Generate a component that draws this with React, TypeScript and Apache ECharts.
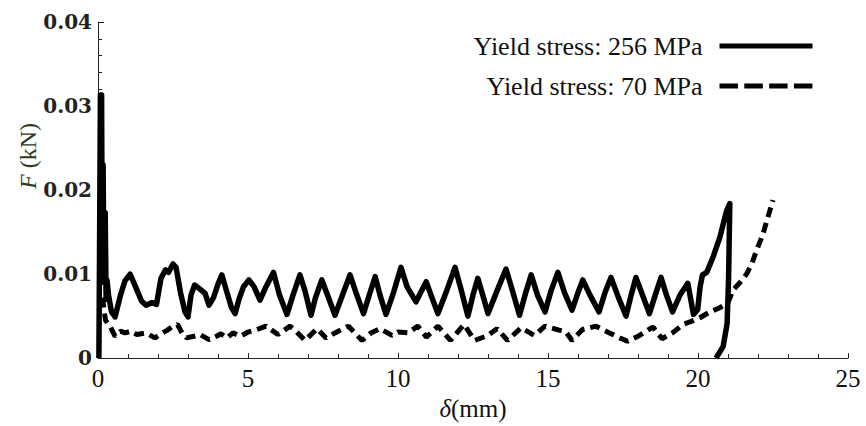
import React, { useEffect, useRef } from "react";
import * as echarts from "echarts";

const seriesNames = ["Yield stress: 256 MPa", "Yield stress: 70 MPa"];
const xTicks = [0, 5, 10, 15, 20, 25];
const yTicks = [0, 0.01, 0.02, 0.03, 0.04];

// Yield stress 256 MPa: [delta (mm), F (kN)]
const solid256: [number, number][] = [
  [0.03, 0], [0.05, 0.012], [0.08, 0.0313], [0.12, 0.0313], [0.14, 0.012], [0.17, 0.023],
  [0.2, 0.009], [0.24, 0.0173], [0.27, 0.007], [0.3, 0.0093],
  [0.35, 0.0075], [0.45, 0.0055], [0.57, 0.0049], [0.75, 0.0075], [0.9, 0.0092], [1.07, 0.01],
  [1.25, 0.0085], [1.45, 0.0068], [1.6, 0.0063], [1.8, 0.0066], [1.95, 0.0064], [2.1, 0.0095],
  [2.25, 0.0105], [2.35, 0.0102], [2.5, 0.0112], [2.6, 0.0108], [2.75, 0.0078], [2.9, 0.0055],
  [3.0, 0.0049], [3.1, 0.0075], [3.22, 0.0087], [3.4, 0.0082], [3.57, 0.0077], [3.7, 0.0063],
  [3.85, 0.0072], [4.0, 0.0088], [4.13, 0.0099], [4.3, 0.0078], [4.45, 0.006], [4.57, 0.0053],
  [4.7, 0.007], [4.85, 0.0085], [5.03, 0.0093], [5.2, 0.0085], [5.4, 0.0069], [5.6, 0.0085],
  [5.85, 0.0102], [6.05, 0.0075], [6.3, 0.0052], [6.5, 0.0075], [6.73, 0.0099], [6.9, 0.008],
  [7.1, 0.0051], [7.25, 0.0072], [7.46, 0.0093], [7.65, 0.0075], [7.9, 0.0051], [8.15, 0.0075],
  [8.4, 0.0099], [8.6, 0.0078], [8.85, 0.0053], [9.05, 0.0076], [9.24, 0.0097], [9.4, 0.0075],
  [9.6, 0.0052], [9.85, 0.0078], [10.1, 0.0108], [10.3, 0.0085], [10.6, 0.0067], [10.94, 0.0091],
  [11.1, 0.0075], [11.33, 0.0053], [11.6, 0.0078], [11.9, 0.0108], [12.1, 0.0082], [12.33, 0.005],
  [12.5, 0.0075], [12.66, 0.0095], [12.85, 0.0072], [13.0, 0.0053], [13.3, 0.008], [13.6, 0.0106],
  [13.8, 0.0082], [14.05, 0.0051], [14.25, 0.0077], [14.44, 0.0099], [14.65, 0.0075], [14.9, 0.0055],
  [15.1, 0.008], [15.33, 0.0102], [15.55, 0.0078], [15.8, 0.0057], [16.0, 0.0078], [16.16, 0.0093],
  [16.4, 0.0075], [16.7, 0.0055], [16.9, 0.0078], [17.1, 0.0096], [17.35, 0.0072], [17.6, 0.005],
  [17.75, 0.0072], [17.93, 0.0096], [18.15, 0.0075], [18.38, 0.0053], [18.6, 0.0078], [18.77, 0.0096],
  [18.95, 0.0075], [19.15, 0.0055], [19.4, 0.0075], [19.66, 0.0089], [19.85, 0.0052], [19.99, 0.0058],
  [20.07, 0.0085], [20.15, 0.0099], [20.29, 0.0102], [20.5, 0.012], [20.73, 0.0144], [20.95, 0.0175],
  [21.06, 0.0184], [21.02, 0.0096], [20.97, 0.0041], [20.84, 0.0014], [20.6, 0.0],
];

// Yield stress 70 MPa: [delta (mm), F (kN)]
const dashed70: [number, number][] = [
  [0.15, 0.0072], [0.25, 0.0045], [0.4, 0.0038], [0.57, 0.0026], [0.75, 0.0032], [0.9, 0.003],
  [1.1, 0.0032], [1.3, 0.0028], [1.6, 0.003], [1.9, 0.0024], [2.1, 0.0029], [2.3, 0.0033],
  [2.5, 0.0038], [2.65, 0.004], [2.8, 0.003], [2.95, 0.0024], [3.2, 0.0026], [3.4, 0.0028],
  [3.7, 0.0022], [3.95, 0.0026], [4.1, 0.0029], [4.3, 0.0024], [4.5, 0.003], [4.75, 0.0026],
  [5.0, 0.0031], [5.3, 0.0034], [5.6, 0.0038], [6.0, 0.0028], [6.4, 0.0038], [6.6, 0.0032],
  [6.9, 0.0021], [7.3, 0.0035], [7.6, 0.0024], [7.9, 0.003], [8.35, 0.0038], [8.8, 0.0021],
  [9.1, 0.003], [9.4, 0.0035], [9.8, 0.0027], [10.0, 0.0031], [10.33, 0.003], [10.66, 0.0038],
  [10.95, 0.0025], [11.33, 0.0038], [11.75, 0.0021], [12.2, 0.004], [12.55, 0.0021], [13.0, 0.0027],
  [13.3, 0.0035], [13.65, 0.0021], [14.1, 0.0036], [14.55, 0.0027], [14.9, 0.0038], [15.4, 0.0033],
  [15.6, 0.0031], [15.8, 0.0021], [16.15, 0.0034], [16.6, 0.0038], [17.05, 0.003], [17.4, 0.0024],
  [17.65, 0.002], [18.05, 0.0027], [18.5, 0.0037], [18.8, 0.0023], [19.15, 0.003], [19.5, 0.004],
  [19.8, 0.0044], [20.06, 0.0048], [20.4, 0.0055], [20.73, 0.006], [21.0, 0.0066], [21.17, 0.0081],
  [21.4, 0.009], [21.62, 0.01], [21.8, 0.0113], [21.95, 0.0128], [22.15, 0.0146], [22.3, 0.0164],
  [22.5, 0.0188],
];

export default function App() {
  const ref = useRef<HTMLDivElement>(null);

  useEffect(() => {
    document.body.style.margin = "0";
    if (!ref.current) return;
    const chart = echarts.init(ref.current, null, { renderer: "svg" });
    const axisColor = "#222";
    chart.setOption({
      animation: false,
      backgroundColor: "#fff",
      grid: { left: 98, right: 18, top: 22, bottom: 64, containLabel: false },
      legend: {
        orient: "vertical",
        right: 51,
        top: 33,
        padding: 0,
        align: "right",
        itemWidth: 93,
        itemHeight: 14,
        itemGap: 14,
        itemStyle: { opacity: 0 },
        lineStyle: { width: 5 },
        textStyle: {
          fontFamily: "Liberation Serif",
          fontSize: 26,
          color: "#111",
          padding: [0, 12, 0, 0],
        },
        data: [
          { name: seriesNames[0], lineStyle: { type: "solid", width: 5 } },
          { name: seriesNames[1], lineStyle: { type: [18.5, 6.3], width: 5 } },
        ],
      },
      xAxis: {
        type: "value",
        min: xTicks[0],
        max: xTicks[xTicks.length - 1],
        interval: 5,
        name: "{i|δ}(mm)",
        nameLocation: "middle",
        nameGap: 37,
        nameTextStyle: {
          fontFamily: "Liberation Serif",
          fontSize: 25,
          color: "#111",
          rich: { i: { fontFamily: "Liberation Serif", fontStyle: "italic", fontSize: 25, color: "#111" } },
        },
        axisLine: { show: true, lineStyle: { color: axisColor, width: 1 } },
        axisTick: { show: true, inside: true, length: 5, lineStyle: { color: axisColor } },
        minorTick: { show: true, splitNumber: 5, length: 4, lineStyle: { color: axisColor } },
        axisLabel: { fontFamily: "Liberation Serif", fontSize: 25, color: "#111", margin: 8 },
        splitLine: { show: false },
      },
      yAxis: {
        type: "value",
        min: yTicks[0],
        max: yTicks[yTicks.length - 1],
        interval: 0.01,
        axisLine: { show: true, lineStyle: { color: axisColor, width: 1 } },
        axisTick: { show: true, inside: true, length: 6, lineStyle: { color: axisColor } },
        minorTick: { show: true, splitNumber: 5, length: 4, lineStyle: { color: axisColor } },
        axisLabel: {
          fontFamily: "DejaVu Serif",
          fontSize: 20,
          fontWeight: "bold",
          color: "#222",
          margin: 6,
          formatter: (v: number) => (v === 0 ? "0" : v.toFixed(2)),
        },
        splitLine: { show: false },
      },
      graphic: [
        {
          type: "text",
          x: 28,
          y: 156,
          rotation: Math.PI / 2,
          style: {
            text: "{i|F} (kN)",
            fontFamily: "Liberation Serif",
            fontSize: 24,
            fill: "#2f3a22",
            align: "center",
            verticalAlign: "middle",
            rich: { i: { fontStyle: "italic", fontFamily: "Liberation Serif", fontSize: 24, fill: "#2f3a22" } },
          },
        },
      ],
      series: [
        {
          name: seriesNames[0],
          type: "line",
          data: solid256,
          symbol: "none",
          lineStyle: { color: "#000", width: 5.5, type: "solid", join: "round" },
          itemStyle: { color: "#000" },
        },
        {
          name: seriesNames[1],
          type: "line",
          data: dashed70,
          symbol: "none",
          lineStyle: { color: "#000", width: 5, type: [10, 6] },
          itemStyle: { color: "#000" },
        },
      ],
    });
    return () => chart.dispose();
  }, []);

  return <div ref={ref} style={{ width: 866, height: 426 }} />;
}
